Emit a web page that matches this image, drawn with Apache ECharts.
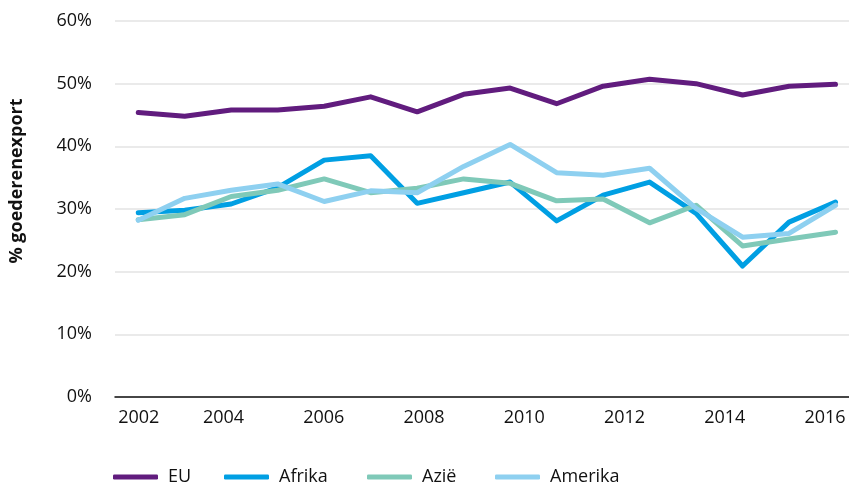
<!DOCTYPE html>
<html>
<head>
<meta charset="utf-8">
<script src="https://cdn.jsdelivr.net/npm/echarts@6/dist/echarts.min.js"></script>
<style>
html,body{margin:0;padding:0;background:#fff;}
#chart{width:849px;height:485px;}
</style>
</head>
<body>
<div id="chart"></div>
<script>
// Tick labels for the year axis
var yearLabels = [2002, 2004, 2006, 2008, 2010, 2012, 2014, 2016];
// Series names
var seriesNames = ['EU', 'Afrika', 'Azië', 'Amerika'];
// Series values (% goederenexport), 16 observations each
var euValues      = [45.4, 44.8, 45.8, 45.8, 46.4, 47.9, 45.5, 48.3, 49.3, 46.8, 49.6, 50.7, 50.0, 48.2, 49.6, 49.9];
var afrikaValues  = [29.4, 29.8, 30.8, 33.4, 37.8, 38.5, 30.9, 32.6, 34.3, 28.1, 32.2, 34.3, 29.3, 20.9, 27.9, 31.1];
var azieValues    = [28.3, 29.1, 32.0, 33.0, 34.8, 32.6, 33.3, 34.8, 34.1, 31.3, 31.6, 27.8, 30.6, 24.1, 25.2, 26.3];
var amerikaValues = [28.2, 31.7, 33.0, 34.0, 31.2, 32.9, 32.6, 36.8, 40.3, 35.8, 35.4, 36.5, 30.1, 25.5, 26.1, 30.6];

var colors = ['#611c7e', '#009fe3', '#7fc9b8', '#8ed0f0'];
var allValues = [euValues, afrikaValues, azieValues, amerikaValues];
var legendLefts = [113, 224, 367, 495];
var font = '"Open Sans", "Noto Sans", sans-serif';

var chart = echarts.init(document.getElementById('chart'), null, {renderer: 'canvas'});

var series = seriesNames.map(function (name, k) {
  return {
    name: name,
    type: 'line',
    xAxisIndex: 1,
    yAxisIndex: 0,
    data: allValues[k].map(function (v, i) { return [i, v]; }),
    showSymbol: false,
    symbol: 'none',
    smooth: false,
    lineStyle: {color: colors[k], width: 5, cap: 'round', join: 'round'},
    itemStyle: {color: colors[k]},
    emphasis: {disabled: true},
    z: 2 + k
  };
});

var legends = seriesNames.map(function (name, k) {
  return {
    left: legendLefts[k],
    top: 468,
    padding: 0,
    itemWidth: 45,
    itemHeight: 5,
    icon: 'roundRect',
    data: [name],
    textStyle: {fontFamily: font, fontSize: 18, color: '#111', padding: [0, 0, 0, 5]},
    selectedMode: false
  };
});

chart.setOption({
  animation: false,
  color: colors,
  grid: {left: 115, right: 0, top: 21, bottom: 88, containLabel: false},
  graphic: [{
    type: 'text',
    x: 17, y: 181,
    rotation: Math.PI / 2,
    style: {
      text: '% goederenexport',
      font: 'bold 18px "Open Sans", "Noto Sans", sans-serif',
      fill: '#111',
      align: 'center',
      verticalAlign: 'middle'
    }
  }],
  legend: legends,
  xAxis: [{
    type: 'value',
    min: 2001.835,
    max: 2016.479,
    position: 'bottom',
    axisLine: {show: true, lineStyle: {color: '#111', width: 1.5}},
    axisTick: {show: false},
    splitLine: {show: false},
    axisLabel: {
      customValues: yearLabels,
      margin: 12,
      fontFamily: font,
      fontSize: 18,
      color: '#111',
      formatter: function (v) {
        return v === yearLabels[0] ? '{first|' + v + '}' : String(v);
      },
      rich: {
        first: {fontFamily: font, fontSize: 18, color: '#111', padding: [0, 0, 0, 31]}
      }
    }
  }, {
    type: 'value',
    min: -0.5,
    max: 15.29,
    show: false,
    position: 'top',
    splitLine: {show: false}
  }],
  yAxis: [{
    type: 'value',
    min: 0,
    max: 60,
    interval: 10,
    axisLine: {show: false},
    axisTick: {show: false},
    splitLine: {show: true, lineStyle: {color: '#e3e3e3', width: 1.5}},
    axisLabel: {
      margin: 23,
      fontFamily: font,
      fontSize: 18,
      color: '#111',
      formatter: function (v) { return v + '%'; }
    }
  }],
  series: series
});
</script>
</body>
</html>
